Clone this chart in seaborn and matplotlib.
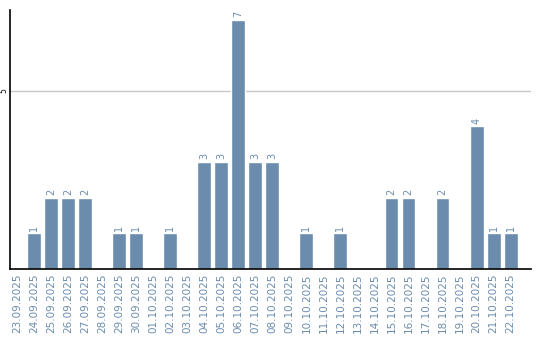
import matplotlib
matplotlib.use("Agg")
import matplotlib.pyplot as plt
import seaborn as sns
import pandas as pd

dates = ["23.09.2025", "24.09.2025", "25.09.2025", "26.09.2025", "27.09.2025",
         "28.09.2025", "29.09.2025", "30.09.2025", "01.10.2025", "02.10.2025",
         "03.10.2025", "04.10.2025", "05.10.2025", "06.10.2025", "07.10.2025",
         "08.10.2025", "09.10.2025", "10.10.2025", "11.10.2025", "12.10.2025",
         "13.10.2025", "14.10.2025", "15.10.2025", "16.10.2025", "17.10.2025",
         "18.10.2025", "19.10.2025", "20.10.2025", "21.10.2025", "22.10.2025"]
counts = [0, 1, 2, 2, 2, 0, 1, 1, 0, 1, 0, 3, 3, 7, 3, 3, 0, 1, 0, 1,
          0, 0, 2, 2, 0, 2, 0, 4, 1, 1]
yticks = [5]

BAR = "#6b8cad"
df = pd.DataFrame({"date": dates, "count": counts})

sns.set_style("white")
fig = plt.figure(figsize=(5.4, 3.4), dpi=100)
ax = fig.add_axes([10/540, 71/340, 521/540, 259/340])

sns.barplot(data=df, x="date", y="count", color=BAR, width=0.82,
            saturation=1, ax=ax, zorder=2)

for i, v in enumerate(counts):
    if v > 0:
        ax.text(i, v + 0.08, str(v), rotation=90, ha="center", va="bottom",
                fontsize=7, color=BAR)

ax.set_xlim(-0.42, 30.2)
ax.set_ylim(0, 7.27)
ax.set_yticks(yticks)
ax.set_yticklabels([str(t) for t in yticks], rotation=90, va="center",
                   fontsize=5.5, color="black")
ax.yaxis.grid(True, color="#c8c8c8", linewidth=1, zorder=0)
ax.tick_params(axis="y", length=0, pad=1.5)
ax.tick_params(axis="x", length=0, pad=3, labelsize=7.5, labelcolor=BAR)
plt.setp(ax.get_xticklabels(), rotation=90)
ax.set_xlabel("")
ax.set_ylabel("")
for s in ["top", "right"]:
    ax.spines[s].set_visible(False)
for s in ["left", "bottom"]:
    ax.spines[s].set_color("black")
    ax.spines[s].set_linewidth(1.2)

fig.savefig("out.png", dpi=100)
